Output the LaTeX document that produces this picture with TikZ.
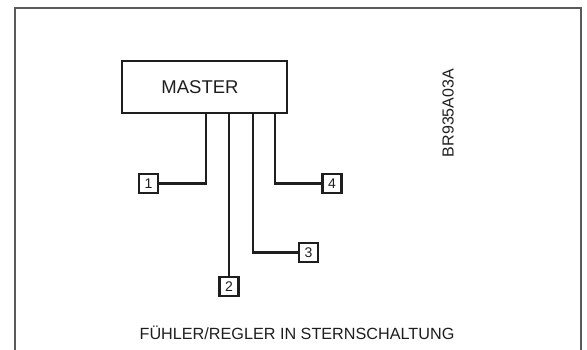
\documentclass[tikz,border=0pt]{standalone}
\usepackage{fontspec}
\setmainfont{Liberation Sans}
\definecolor{framegray}{HTML}{5A5A5A}
\definecolor{ink}{HTML}{1E1E1E}
\begin{document}
\begin{tikzpicture}[x=1pt,y=-1pt,
  wire/.style={draw=ink,line width=2.1pt},
  sensor/.style={draw=ink,line width=2.1pt,minimum width=19pt,minimum height=19pt,inner sep=0pt,font=\fontsize{14}{14}\selectfont,text=ink},
  masterbox/.style={draw=ink,line width=2.1pt,minimum width=165pt,minimum height=52pt,inner sep=0pt,font=\fontsize{18}{18}\selectfont,text=ink}]
\useasboundingbox (0,0) rectangle (587,349);
\draw[framegray,line width=1.7pt] (15,352) -- (15,8) -- (581,8) -- (581,352);
\node[masterbox] (m) at (204.5,87) {};
\node[text=ink,font=\fontsize{18.5}{18.5}\selectfont] (mt) at (200,87) {MASTER};
\node[sensor] (s1) at (148.5,183.5) {1};
\node[sensor] (s2) at (229,286.5) {2};
\node[sensor] (s3) at (308.5,252.5) {3};
\node[sensor] (s4) at (332,183.5) {4};
\coordinate (a1) at (206,113);
\coordinate (a2) at (229,113);
\coordinate (a3) at (253,113);
\coordinate (a4) at (275,113);
\draw[wire] (a1) |- (s1.east);
\draw[wire] (a2) -- (s2.north);
\draw[wire] (a3) |- (s3.west);
\draw[wire] (a4) |- (s4.west);
\node[rotate=90,text=ink,font=\fontsize{16}{16}\selectfont] (code) at (448,113) {BR935A03A};
\node[text=ink,font=\fontsize{16.2}{16.2}\selectfont] (cap) at (297,333) {FÜHLER/REGLER IN STERNSCHALTUNG};
\end{tikzpicture}
\end{document}
